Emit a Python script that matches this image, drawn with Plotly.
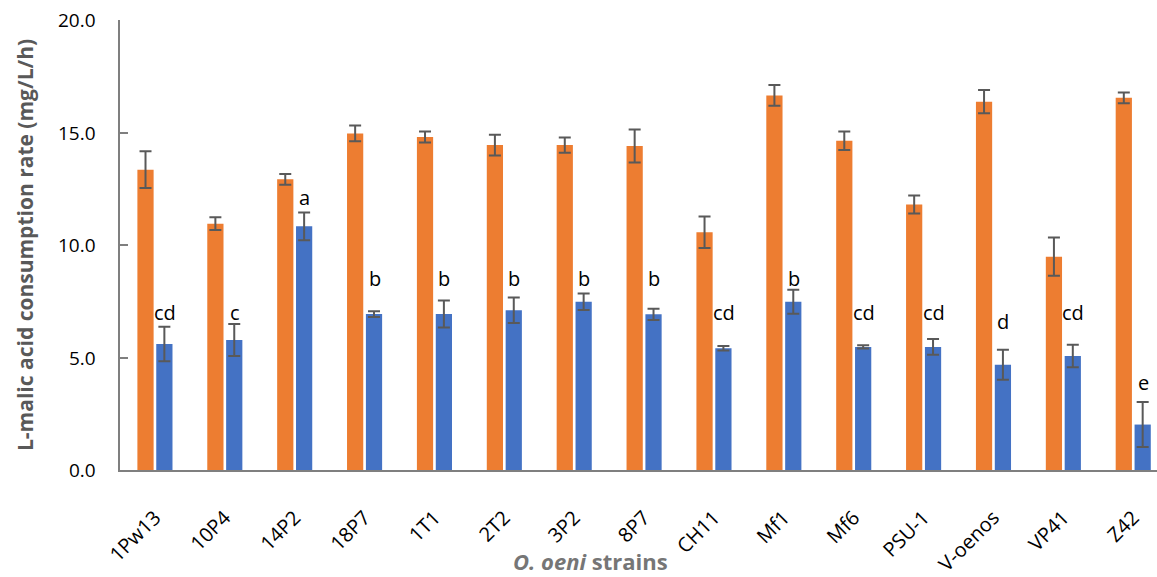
import plotly.graph_objects as go

strains = ["1Pw13", "10P4", "14P2", "18P7", "1T1", "2T2", "3P2", "8P7",
           "CH11", "Mf1", "Mf6", "PSU-1", "V-oenos", "VP41", "Z42"]

# Consumption rates (mg/L/h) and their standard deviations
orange_vals = [13.35, 10.95, 12.92, 14.96, 14.80, 14.44, 14.44, 14.40,
               10.57, 16.65, 14.63, 11.80, 16.37, 9.48, 16.54]
orange_err = [0.82, 0.28, 0.24, 0.35, 0.24, 0.46, 0.34, 0.73,
              0.70, 0.46, 0.41, 0.40, 0.52, 0.85, 0.24]
blue_vals = [5.60, 5.78, 10.83, 6.93, 6.93, 7.10, 7.48, 6.92,
             5.41, 7.48, 5.47, 5.47, 4.68, 5.07, 2.02]
blue_err = [0.77, 0.71, 0.62, 0.13, 0.60, 0.57, 0.37, 0.25,
            0.10, 0.53, 0.07, 0.35, 0.67, 0.50, 1.00]

# Significance letters and the height at which each is written
letters = ["cd", "c", "a", "b", "b", "b", "b", "b",
           "cd", "b", "cd", "cd", "d", "cd", "e"]
letter_y = [7.02, 7.02, 12.09, 8.53, 8.53, 8.53, 8.53, 8.53,
            7.02, 8.53, 7.02, 7.02, 6.58, 7.02, 3.87]

# Value-axis ticks
y_ticks = [0, 5, 10, 15, 20]
y_tick_labels = ["0.0", "5.0", "10.0", "15.0", "20.0"]

FONT = "Open Sans, Lato, sans-serif"
err_style = dict(type="data", visible=True, color="#595959", thickness=2, width=6)

fig = go.Figure()
fig.add_trace(go.Bar(
    x=strains, y=orange_vals, marker_color="#ED7D31", marker_line_width=0,
    error_y=dict(array=orange_err, **err_style), showlegend=False,
))
fig.add_trace(go.Bar(
    x=strains, y=blue_vals, marker_color="#4472C4", marker_line_width=0,
    error_y=dict(array=blue_err, **err_style), showlegend=False,
))

annotations = []
for s, lab, ly in zip(strains, letters, letter_y):
    annotations.append(dict(
        x=s, y=ly, xref="x", yref="y", text=lab, showarrow=False,
        xshift=10, yanchor="middle", xanchor="center",
        font=dict(family=FONT, size=20, color="#000000"),
    ))

# Value-axis labels, set a little further left of the axis line
for v, t in zip(y_ticks, y_tick_labels):
    annotations.append(dict(
        x=0, y=v, xref="paper", yref="y", text=t, showarrow=False,
        xanchor="right", yanchor="middle", xshift=-22,
        font=dict(family=FONT, size=19, color="#000000"),
    ))

# Axis titles
annotations.append(dict(
    x=(25 - 120) / 1037, y=0.5, xref="paper", yref="paper",
    text="<b>L-malic acid consumption rate (mg/L/h)</b>", textangle=-90,
    showarrow=False, xanchor="center", yanchor="middle",
    font=dict(family=FONT, size=21, color="#595959"),
))
annotations.append(dict(
    x=(590 - 120) / 1037, y=-(561 - 470) / 450, xref="paper", yref="paper",
    text="<b><i>O. oeni</i> strains</b>", showarrow=False, borderpad=0,
    xanchor="center", yanchor="middle",
    font=dict(family=FONT, size=22, color="#767676"),
))

fig.update_layout(
    width=1157, height=577,
    margin=dict(l=120, r=0, t=20, b=107),
    plot_bgcolor="white", paper_bgcolor="white",
    barmode="group", bargap=0.46, bargroupgap=0.14,
    annotations=annotations,
    font=dict(family=FONT, color="#000000"),
)
fig.update_xaxes(
    type="category", range=[-0.5, 14.34],
    showline=True, linecolor="#7F7F7F", linewidth=2,
    ticks="", tickangle=-45, ticklabelstandoff=26,
    tickfont=dict(family=FONT, size=20, color="#000000"),
    showgrid=False,
)
fig.update_yaxes(
    range=[0, 20], tickvals=y_ticks, showticklabels=False,
    showline=True, linecolor="#7F7F7F", linewidth=2,
    ticks="inside", ticklen=8, tickcolor="#7F7F7F", tickwidth=2,
    showgrid=False, zeroline=False,
)

fig.write_html("out.html")
